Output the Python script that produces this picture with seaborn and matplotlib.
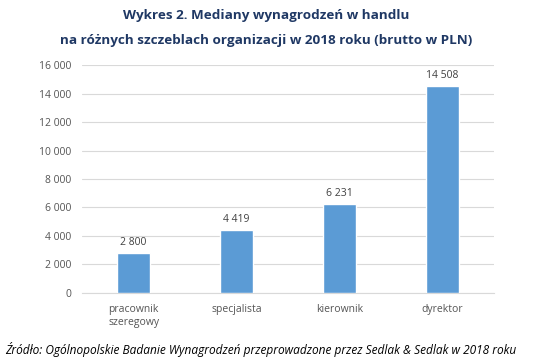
import pandas as pd
import matplotlib.pyplot as plt
import seaborn as sns

categories = ['pracownik\nszeregowy', 'specjalista', 'kierownik', 'dyrektor']
values = [2800, 4419, 6231, 14508]
yticks = [0, 2000, 4000, 6000, 8000, 10000, 12000, 14000, 16000]

df = pd.DataFrame({'stanowisko': categories, 'mediana': values})

sns.set_style('white')
plt.rcParams['font.family'] = ['Open Sans', 'DejaVu Sans']

fig = plt.figure(figsize=(5.33, 3.62), dpi=100)
ax = fig.add_axes([0.154, 0.191, 0.773, 0.629])

sns.barplot(data=df, x='stanowisko', y='mediana', color='#5B9BD5',
            width=0.32, saturation=1, ax=ax, zorder=3)

fmt = lambda v: f'{v:,}'.replace(',', ' ')
for i, v in enumerate(values):
    ax.text(i, v + 350, fmt(v), ha='center', va='bottom', fontsize=7.5, color='#404040')

ax.set_ylim(0, 16000)
ax.set_xlim(-0.5, 3.5)
ax.set_yticks(yticks)
ax.set_yticklabels([fmt(t) for t in yticks])
ax.yaxis.grid(True, color='#D9D9D9', linewidth=0.8, zorder=0)
ax.set_xlabel('')
ax.set_ylabel('')
for s in ['top', 'right', 'left']:
    ax.spines[s].set_visible(False)
ax.spines['bottom'].set_color('#D9D9D9')
ax.tick_params(axis='both', length=0, labelsize=7.5, colors='#555555', pad=8)

fig.text(0.5, 0.957, 'Wykres 2. Mediany wynagrodzeń w handlu', ha='center', va='center',
         fontsize=9.7, fontweight='bold', color='#1F3864')
fig.text(0.5, 0.887, 'na różnych szczeblach organizacji w 2018 roku (brutto w PLN)', ha='center',
         va='center', fontsize=9.7, fontweight='bold', color='#1F3864')
fig.text(0.009, 0.035, 'Źródło: Ogólnopolskie Badanie Wynagrodzeń przeprowadzone przez Sedlak & Sedlak w 2018 roku',
         ha='left', va='center', fontsize=8.6, style='italic', color='#000000')

plt.savefig('out.png', dpi=100)
